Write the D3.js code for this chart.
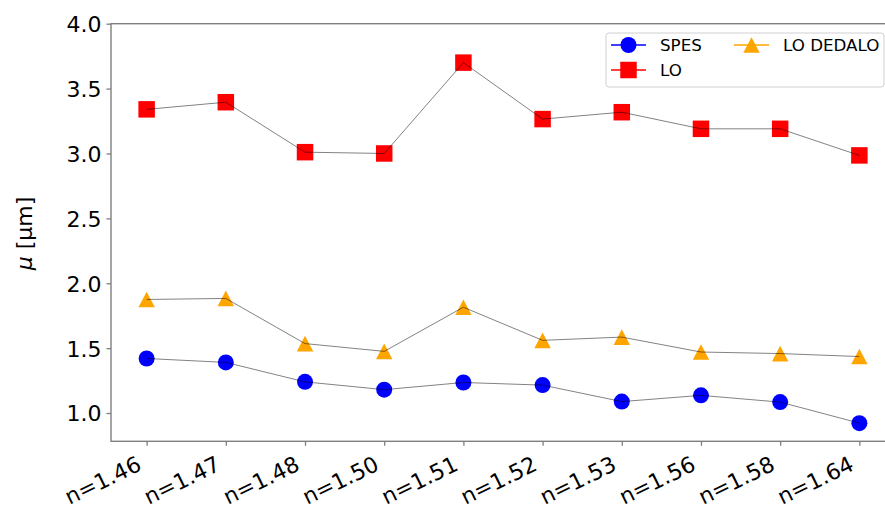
<!DOCTYPE html>
<html>
<head>
<meta charset="utf-8">
<script src="https://cdn.jsdelivr.net/npm/d3@7"></script>
<style>
  html, body { margin: 0; padding: 0; background: #fff; }
  svg { display: block; font-family: "DejaVu Sans", sans-serif; }
</style>
</head>
<body>
<svg id="chart" width="885" height="506"></svg>
<script>
// Refractive index categories on the x axis
const categories = ["n=1.46", "n=1.47", "n=1.48", "n=1.50", "n=1.51", "n=1.52", "n=1.53", "n=1.56", "n=1.58", "n=1.64"];

// Mean size μ [μm] per method
const spes     = [1.42, 1.39, 1.24, 1.18, 1.235, 1.215, 1.088, 1.136, 1.084, 0.922];
const lo       = [3.34, 3.395, 3.01, 3.00, 3.70, 3.265, 3.318, 3.19, 3.19, 2.985];
const loDedalo = [1.875, 1.883, 1.535, 1.475, 1.815, 1.56, 1.585, 1.47, 1.458, 1.435];

const yTicks = [1.0, 1.5, 2.0, 2.5, 3.0, 3.5, 4.0];

const series = [
  { name: "SPES",      values: spes,     color: "#0000ff", symbol: "circle" },
  { name: "LO",        values: lo,       color: "#ff0000", symbol: "square" },
  { name: "LO DEDALO", values: loDedalo, color: "#ffa500", symbol: "triangle" }
];

const svg = d3.select("#chart");
const plotLeft = 111, plotRight = 895, plotTop = 23.7, plotBottom = 441.3;

const x = d3.scalePoint().domain(categories).range([plotLeft, plotRight]).padding(0.45);
const y = d3.scaleLinear().domain([0.782, 4.0]).range([plotBottom, plotTop]);

const spineColor = "#7f7f7f";
const fontPx = 22;

// marker shapes
function markerPath(symbol) {
  if (symbol === "circle") return d3.symbol(d3.symbolCircle, Math.PI * 8 * 8)();
  if (symbol === "square") return d3.symbol(d3.symbolSquare, 16.5 * 16.5)();
  // upward triangle centred on its bounding box
  const w = 8.2, h = 15.6;
  return `M0,${-h / 2}L${w},${h / 2}L${-w},${h / 2}Z`;
}

// markers
series.forEach(s => {
  svg.append("g").selectAll("path").data(s.values).join("path")
    .attr("d", markerPath(s.symbol))
    .attr("transform", (d, i) => `translate(${x(categories[i])},${y(d)})`)
    .attr("fill", s.color);
});

// thin connecting lines drawn over markers
const line = d3.line().x((d, i) => x(categories[i])).y(d => y(d));
series.forEach(s => {
  svg.append("path").datum(s.values)
    .attr("d", line)
    .attr("fill", "none")
    .attr("stroke", "#000")
    .attr("stroke-opacity", 0.55)
    .attr("stroke-width", 0.9);
});

// frame
svg.append("rect")
  .attr("x", plotLeft).attr("y", plotTop)
  .attr("width", plotRight - plotLeft).attr("height", plotBottom - plotTop)
  .attr("fill", "none").attr("stroke", spineColor).attr("stroke-width", 1.4);

// y axis
const yAxis = svg.append("g").attr("transform", `translate(${plotLeft},0)`)
  .call(d3.axisLeft(y).tickValues(yTicks).tickFormat(d3.format(".1f")).tickSize(4.5).tickPadding(5));
yAxis.select(".domain").remove();
yAxis.selectAll(".tick line").attr("stroke", spineColor).attr("stroke-width", 1.3);
yAxis.selectAll(".tick text")
  .attr("font-size", fontPx).attr("fill", "#000")
  .attr("font-family", "DejaVu Sans, sans-serif")
  .attr("dy", "0.36em").attr("x", -9.5);

// x axis with slanted category labels
const xAxis = svg.append("g").attr("transform", `translate(0,${plotBottom})`)
  .call(d3.axisBottom(x).tickSize(4.5));
xAxis.select(".domain").remove();
xAxis.selectAll(".tick line").attr("stroke", spineColor).attr("stroke-width", 1.3);
xAxis.selectAll(".tick text")
  .attr("font-size", fontPx).attr("fill", "#000")
  .attr("font-family", "DejaVu Sans, sans-serif")
  .attr("text-anchor", "end")
  .attr("x", null).attr("y", null).attr("dy", null)
  .attr("transform", "translate(-4.4,28.1) rotate(-26)");

// y axis title
const yTitle = svg.append("text")
  .attr("transform", `translate(32,${(plotTop + plotBottom) / 2 + 1}) rotate(-90)`)
  .attr("text-anchor", "middle")
  .attr("font-size", fontPx).attr("fill", "#000");
yTitle.append("tspan").attr("font-style", "italic").text("μ");
yTitle.append("tspan").text(" [μm]");

// legend
const legend = svg.append("g");
legend.append("rect")
  .attr("x", 606).attr("y", 33).attr("width", 278).attr("height", 54)
  .attr("rx", 3).attr("fill", "#fff").attr("fill-opacity", 0.8)
  .attr("stroke", "#d0d0d0").attr("stroke-width", 1);

const legendPos = [
  { x: 611, y: 45 },
  { x: 611, y: 70 },
  { x: 734, y: 45 }
];
series.forEach((s, i) => {
  const p = legendPos[i];
  const g = legend.append("g").attr("transform", `translate(${p.x},${p.y})`);
  g.append("line").attr("x1", 0).attr("x2", 35).attr("y1", 0).attr("y2", 0)
    .attr("stroke", s.color).attr("stroke-width", 1.5);
  g.append("path").attr("d", markerPath(s.symbol))
    .attr("transform", "translate(17.5,0)").attr("fill", s.color);
  g.append("text").attr("x", 49).attr("y", 0).attr("dy", "0.36em")
    .attr("font-size", 16.7).attr("fill", "#000").text(s.name);
});
</script>
</body>
</html>
